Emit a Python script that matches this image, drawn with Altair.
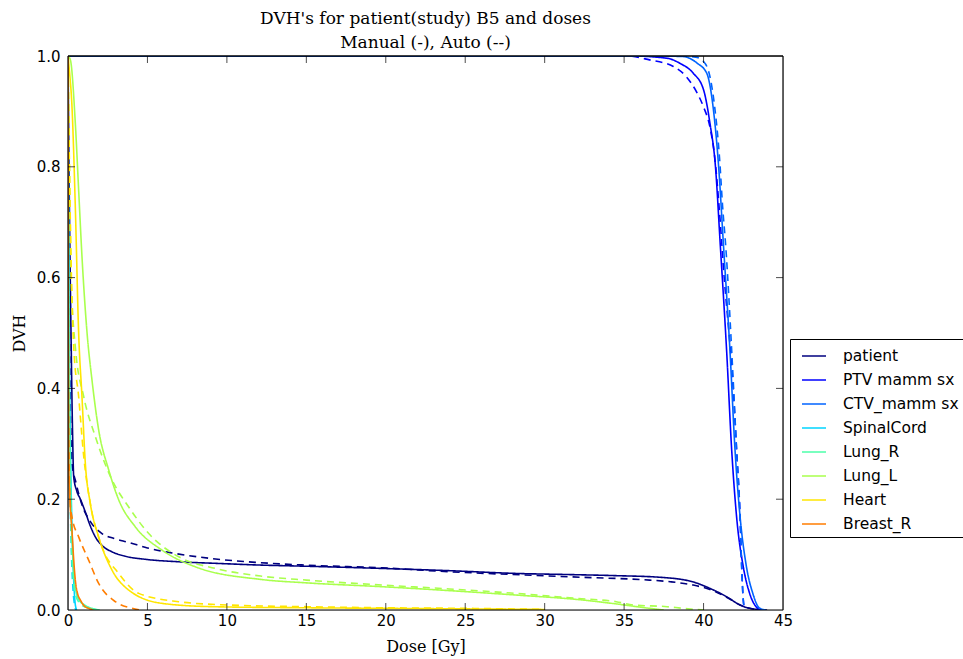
import altair as alt
import pandas as pd

structures = ["patient", "PTV mamm sx", "CTV_mamm sx", "SpinalCord", "Lung_R", "Lung_L", "Heart", "Breast_R"]
colors = ["#00007f", "#0000ff", "#0063ff", "#00d4ff", "#4dffaa", "#a9ff4d", "#ffe600", "#ff7d00"]

x_ticks = [0, 5, 10, 15, 20, 25, 30, 35, 40, 45]
y_ticks = [0.0, 0.2, 0.4, 0.6, 0.8, 1.0]

patient_manual_dose = [0, 0.08, 0.19, 0.28, 0.36, 0.55, 0.78, 1.09, 1.4, 1.72, 2.2, 2.77, 3.6, 4.87, 7, 9.5, 12.2, 15, 19.8, 24, 28.2, 31.5, 34.5, 37.3, 39.3, 40.4, 41.45, 42.3, 42.9, 44.0]
patient_manual_dvh = [1.0, 0.75, 0.5, 0.33, 0.24, 0.215, 0.2, 0.177, 0.152, 0.132, 0.115, 0.105, 0.097, 0.0915, 0.087, 0.084, 0.081, 0.079, 0.075, 0.071, 0.066, 0.064, 0.062, 0.059, 0.051, 0.039, 0.024, 0.009, 0.003, 0.0]
patient_auto_dose = [0, 0.05, 0.12, 0.2, 0.25, 0.5, 0.88, 1.4, 2.14, 2.9, 3.82, 5, 6.55, 9, 11.8, 15, 19.8, 24, 28, 32.4, 36.6, 37.9, 39.35, 40.4, 41.45, 42.3, 42.9, 43.6]
patient_auto_dvh = [1.0, 0.7, 0.42, 0.3, 0.265, 0.23, 0.19, 0.16, 0.138, 0.129, 0.122, 0.112, 0.103, 0.093, 0.086, 0.081, 0.076, 0.069, 0.064, 0.059, 0.054, 0.051, 0.045, 0.037, 0.023, 0.009, 0.003, 0.0]

ptv_manual_dose = [0, 35.4, 37.7, 38.5, 39.35, 40.0, 40.4, 40.75, 41.05, 41.45, 41.77, 42.08, 42.5, 42.9, 43.3, 43.6]
ptv_manual_dvh = [1.0, 1.0, 0.996, 0.987, 0.969, 0.939, 0.879, 0.80, 0.66, 0.469, 0.289, 0.168, 0.078, 0.03, 0.006, 0.0]
ptv_auto_dose = [0, 35.2, 36.6, 38.1, 38.9, 39.6, 40.0, 40.4, 40.7, 41.0, 41.3, 41.6, 41.8, 42.08, 42.3, 42.4, 42.5, 42.6]
ptv_auto_dvh = [1.0, 1.0, 0.993, 0.981, 0.963, 0.933, 0.908, 0.872, 0.818, 0.72, 0.6, 0.5, 0.43, 0.289, 0.168, 0.078, 0.018, 0.0]

ctv_manual_dose = [0, 37.0, 38.7, 39.6, 40.2, 40.6, 40.95, 41.25, 41.66, 41.98, 42.3, 42.7, 43.1, 43.5, 43.9]
ctv_manual_dvh = [1.0, 1.0, 0.999, 0.987, 0.969, 0.908, 0.80, 0.66, 0.469, 0.289, 0.168, 0.078, 0.03, 0.004, 0.0]
ctv_auto_dose = [0, 38.5, 39.5, 40.0, 40.4, 40.7, 41.0, 41.2, 41.4, 41.77, 42.08, 42.3, 42.4, 42.5, 42.6]
ctv_auto_dvh = [1.0, 1.0, 0.998, 0.99, 0.963, 0.908, 0.818, 0.728, 0.655, 0.469, 0.289, 0.168, 0.078, 0.018, 0.0]

spinal_manual_dose = [0, 0.05, 0.15, 0.25, 0.35, 0.45, 0.55]
spinal_manual_dvh = [1.0, 0.6, 0.3, 0.15, 0.06, 0.012, 0.0]
spinal_auto_dose = [0, 0.05, 0.12, 0.22, 0.32, 0.42, 0.5]
spinal_auto_dvh = [1.0, 0.5, 0.25, 0.1, 0.035, 0.008, 0.0]

lungr_manual_dose = [0, 0.05, 0.15, 0.3, 0.46, 0.7, 1.0, 1.5, 1.9]
lungr_manual_dvh = [1.0, 0.5, 0.25, 0.1, 0.04, 0.018, 0.01, 0.003, 0.0]
lungr_auto_dose = [0, 0.05, 0.15, 0.3, 0.5, 0.9, 1.5, 2.0]
lungr_auto_dvh = [1.0, 0.45, 0.2, 0.07, 0.025, 0.008, 0.002, 0.0]

lungl_manual_dose = [0, 0.15, 0.46, 0.67, 0.88, 1.2, 1.51, 1.93, 2.56, 3.19, 4.24, 5.92, 8.01, 12.2, 15, 19.8, 24, 28.2, 32.4, 34.5, 36.6, 37.5]
lungl_manual_dvh = [1.0, 0.993, 0.879, 0.758, 0.638, 0.5, 0.415, 0.325, 0.253, 0.199, 0.15, 0.108, 0.078, 0.055, 0.049, 0.042, 0.035, 0.027, 0.018, 0.011, 0.003, 0.0]
lungl_auto_dose = [0, 0.1, 0.2, 0.46, 0.99, 1.72, 2.77, 3.82, 5.08, 6.97, 9.27, 12.2, 15, 19.8, 24, 28.2, 32, 34.5, 35.6, 37.7, 38.7, 40.0]
lungl_auto_dvh = [1.0, 0.78, 0.6, 0.475, 0.385, 0.313, 0.235, 0.186, 0.138, 0.096, 0.075, 0.061, 0.054, 0.045, 0.038, 0.030, 0.021, 0.015, 0.009, 0.006, 0.003, 0.0]

heart_manual_dose = [0, 0.1, 0.25, 0.46, 0.67, 0.88, 1.09, 1.4, 1.93, 2.77, 3.82, 5.92, 9.06, 15, 20, 25, 30]
heart_manual_dvh = [1.0, 0.97, 0.909, 0.728, 0.5, 0.385, 0.265, 0.193, 0.132, 0.072, 0.036, 0.012, 0.006, 0.004, 0.003, 0.002, 0.001]
heart_auto_dose = [0, 0.05, 0.13, 0.25, 0.36, 0.67, 0.99, 1.4, 2.14, 3.19, 4.45, 6.97, 10.1, 15, 20, 25, 30]
heart_auto_dvh = [1.0, 0.88, 0.73, 0.56, 0.475, 0.385, 0.277, 0.193, 0.114, 0.066, 0.030, 0.015, 0.009, 0.006, 0.004, 0.003, 0.001]

breast_manual_dose = [0, 0.02, 0.04, 0.12, 0.25, 0.35, 0.46, 0.6, 0.78, 1.0, 1.3, 1.6]
breast_manual_dvh = [1.0, 0.5, 0.28, 0.2, 0.144, 0.095, 0.054, 0.03, 0.018, 0.008, 0.003, 0.0]
breast_auto_dose = [0, 0.02, 0.05, 0.15, 0.25, 0.67, 1.3, 1.93, 2.98, 4.03, 4.5]
breast_auto_dvh = [1.0, 0.45, 0.3, 0.19, 0.168, 0.132, 0.09, 0.048, 0.015, 0.003, 0.0]

series = [
    ("patient", patient_manual_dose, patient_manual_dvh, patient_auto_dose, patient_auto_dvh),
    ("PTV mamm sx", ptv_manual_dose, ptv_manual_dvh, ptv_auto_dose, ptv_auto_dvh),
    ("CTV_mamm sx", ctv_manual_dose, ctv_manual_dvh, ctv_auto_dose, ctv_auto_dvh),
    ("SpinalCord", spinal_manual_dose, spinal_manual_dvh, spinal_auto_dose, spinal_auto_dvh),
    ("Lung_R", lungr_manual_dose, lungr_manual_dvh, lungr_auto_dose, lungr_auto_dvh),
    ("Lung_L", lungl_manual_dose, lungl_manual_dvh, lungl_auto_dose, lungl_auto_dvh),
    ("Heart", heart_manual_dose, heart_manual_dvh, heart_auto_dose, heart_auto_dvh),
    ("Breast_R", breast_manual_dose, breast_manual_dvh, breast_auto_dose, breast_auto_dvh),
]

rows = []
for k, (name, md, mv, ad, av) in enumerate(series):
    for i, (d, v) in enumerate(zip(md, mv)):
        rows.append({"structure": name, "plan": "Manual", "dose": d, "dvh": v, "idx": i, "z": 2 * k})
    for i, (d, v) in enumerate(zip(ad, av)):
        rows.append({"structure": name, "plan": "Auto", "dose": d, "dvh": v, "idx": i, "z": 2 * k + 1})
df = pd.DataFrame(rows)

xscale = alt.Scale(domain=[0, 45], nice=False, zero=False)
yscale = alt.Scale(domain=[0, 1], nice=False, zero=False)

x_axis = alt.Axis(values=x_ticks, format="d", ticks=False, domain=False, grid=False, labelFlush=False,
                  labelFont="DejaVu Sans", labelFontSize=15, labelColor="black", labelPadding=3,
                  title="Dose [Gy]", titleFont="DejaVu Serif", titleFontSize=16,
                  titleFontWeight="normal", titleColor="black", titlePadding=10, zindex=1)
y_axis = alt.Axis(values=y_ticks, format=".1f", ticks=False, domain=False, grid=False, labelFlush=False,
                  labelFont="DejaVu Sans", labelFontSize=15, labelColor="black", labelPadding=8,
                  title="DVH", titleFont="DejaVu Serif", titleFontSize=16,
                  titleFontWeight="normal", titleColor="black", titlePadding=9, zindex=1)

lines = alt.Chart(df).mark_line(strokeWidth=1.6, clip=True, interpolate="monotone").encode(
    x=alt.X("dose:Q", scale=xscale, axis=x_axis),
    y=alt.Y("dvh:Q", scale=yscale, axis=y_axis),
    color=alt.Color("structure:N", sort=structures,
                    scale=alt.Scale(domain=structures, range=colors),
                    legend=alt.Legend(orient="none", legendX=722, legendY=283, title=None,
                                      strokeColor="black", fillColor="white", padding=4,
                                      symbolType="stroke", symbolSize=576, symbolStrokeWidth=1.5,
                                      symbolOffset=7, labelOffset=16, rowPadding=2,
                                      labelFont="DejaVu Sans", labelFontSize=15.5, labelColor="black",
                                      cornerRadius=0)),
    strokeDash=alt.StrokeDash("plan:N", scale=alt.Scale(domain=["Manual", "Auto"], range=[[1, 0], [7, 5]]), legend=None),
    detail="z:Q",
    order="idx:Q",
)

xt = pd.DataFrame({"t": x_ticks[1:-1]})
yt = pd.DataFrame({"t": y_ticks[1:-1]})
tick_style = dict(color="black", thickness=1, clip=True, size=14)
xb = alt.Chart(xt).mark_tick(orient="vertical", **tick_style).encode(x=alt.X("t:Q", scale=xscale), y=alt.datum(0, scale=yscale))
xtop = alt.Chart(xt).mark_tick(orient="vertical", **tick_style).encode(x=alt.X("t:Q", scale=xscale), y=alt.datum(1, scale=yscale))
yl = alt.Chart(yt).mark_tick(orient="horizontal", **tick_style).encode(y=alt.Y("t:Q", scale=yscale), x=alt.datum(0, scale=xscale))
yr = alt.Chart(yt).mark_tick(orient="horizontal", **tick_style).encode(y=alt.Y("t:Q", scale=yscale), x=alt.datum(45, scale=xscale))

f_top = alt.Chart().mark_rule(color="black", strokeWidth=1.7).encode(y=alt.datum(1, scale=yscale))
f_bot = alt.Chart().mark_rule(color="black", strokeWidth=1.2).encode(y=alt.datum(0, scale=yscale))
f_left = alt.Chart().mark_rule(color="black", strokeWidth=1.2).encode(x=alt.datum(0, scale=xscale))
f_right = alt.Chart().mark_rule(color="black", strokeWidth=1.2).encode(x=alt.datum(45, scale=xscale))

chart = alt.layer(lines, xb, xtop, yl, yr, f_top, f_bot, f_left, f_right).properties(
    width=715, height=554,
    title=alt.TitleParams(["DVH's for patient(study) B5 and doses", "Manual (-), Auto (--)"],
                          font="DejaVu Serif", fontSize=17, fontWeight="normal", color="black",
                          anchor="middle", offset=-3, lineHeight=24),
    autosize=alt.AutoSizeParams(type="none"),
    padding={"left": 68, "top": 56, "right": 180, "bottom": 49},
).configure_view(stroke="black", strokeWidth=1).configure(background="white")

chart.save("out.html", embed_options={"renderer": "svg", "actions": False})
